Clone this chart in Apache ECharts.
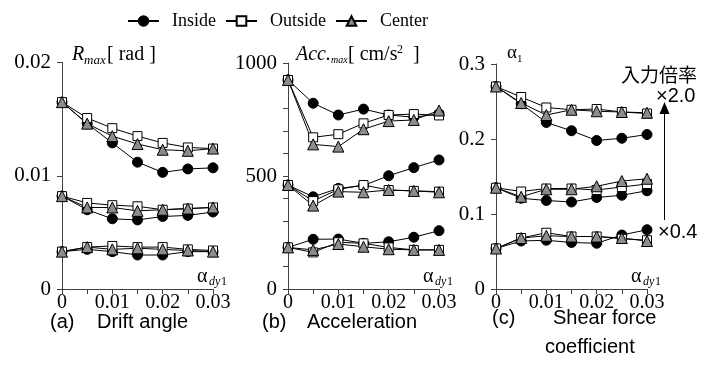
<!DOCTYPE html>
<html>
<head>
<meta charset="utf-8">
<script src="https://cdn.jsdelivr.net/npm/echarts@6/dist/echarts.min.js"></script>
<style>
  html, body { margin: 0; padding: 0; background: #fff; }
  #chart { width: 715px; height: 365px; }
</style>
</head>
<body>
<div id="chart"></div>
<script>
// x values (alpha_dy1)
const alphaDy = [0, 0.005, 0.01, 0.015, 0.02, 0.025, 0.03];
const xTickLabels = ['0', '0.01', '0.02', '0.03'];

// each list: [x2.0, x1.0, x0.4] input scale groups
const driftInside = [
  [0.0165, 0.0146, 0.0129, 0.0112, 0.0103, 0.0106, 0.0107],
  [0.0082, 0.0070, 0.0062, 0.0061, 0.0064, 0.0065, 0.0068],
  [0.0033, 0.0035, 0.0033, 0.0030, 0.0030, 0.0033, 0.0033]
];
const driftOutside = [
  [0.0165, 0.0151, 0.0142, 0.0135, 0.0129, 0.0125, 0.0124],
  [0.0082, 0.0076, 0.0074, 0.0073, 0.0070, 0.0071, 0.0072],
  [0.0033, 0.0037, 0.0038, 0.0037, 0.0037, 0.0035, 0.0034]
];
const driftCenter = [
  [0.0165, 0.0146, 0.0135, 0.0128, 0.0123, 0.0122, 0.0124],
  [0.0082, 0.0072, 0.0072, 0.0069, 0.0070, 0.0071, 0.0072],
  [0.0033, 0.0037, 0.0035, 0.0036, 0.0035, 0.0034, 0.0033]
];

const accInside = [
  [925, 822, 770, 796, 770, 760, 775],
  [460, 408, 445, 458, 501, 537, 571],
  [184, 220, 221, 202, 209, 229, 258]
];
const accOutside = [
  [925, 671, 685, 733, 770, 774, 768],
  [460, 389, 441, 460, 438, 434, 431],
  [184, 162, 207, 202, 184, 173, 173]
];
const accCenter = [
  [925, 640, 630, 707, 743, 748, 790],
  [460, 369, 431, 428, 438, 434, 428],
  [184, 173, 199, 187, 176, 173, 173]
];

const shearInside = [
  [0.270, 0.247, 0.222, 0.211, 0.198, 0.201, 0.206],
  [0.135, 0.121, 0.118, 0.116, 0.122, 0.125, 0.131],
  [0.054, 0.064, 0.065, 0.062, 0.061, 0.072, 0.079]
];
const shearOutside = [
  [0.270, 0.256, 0.242, 0.239, 0.240, 0.236, 0.234],
  [0.135, 0.130, 0.134, 0.134, 0.132, 0.136, 0.140],
  [0.054, 0.068, 0.075, 0.070, 0.070, 0.067, 0.065]
];
const shearCenter = [
  [0.270, 0.248, 0.232, 0.239, 0.237, 0.236, 0.235],
  [0.135, 0.123, 0.133, 0.133, 0.137, 0.144, 0.147],
  [0.054, 0.068, 0.071, 0.070, 0.070, 0.068, 0.064]
];

const serif = '"Liberation Serif", "DejaVu Serif", serif';
const sans = '"Liberation Sans", Arial, sans-serif';
const cjk = '"Noto Sans CJK JP", sans-serif';

// marker look per location
const markStyle = {
  Inside:  { symbol: 'circle',   symbolSize: 10, color: '#000' },
  Outside: { symbol: 'rect',     symbolSize: 9,  color: '#fff' },
  Center:  { symbol: 'triangle', symbolSize: 11, color: '#8c8c8c' }
};

const series = [];
function addGroups(name, groups, idx) {
  groups.forEach(function (ys) {
    const st = markStyle[name];
    series.push({
      name: name,
      type: 'line',
      xAxisIndex: idx,
      yAxisIndex: idx,
      data: alphaDy.map(function (x, i) { return [x, ys[i]]; }),
      symbol: st.symbol,
      symbolSize: st.symbolSize,
      showAllSymbol: true,
      lineStyle: { color: '#000', width: 1 },
      itemStyle: { color: st.color, borderColor: '#000', borderWidth: 1, opacity: 1 },
      emphasis: { disabled: true },
      animation: false
    });
  });
}
['Inside', 'Outside', 'Center'].forEach(function (n) {
  addGroups(n, { Inside: driftInside, Outside: driftOutside, Center: driftCenter }[n], 0);
  addGroups(n, { Inside: accInside, Outside: accOutside, Center: accCenter }[n], 1);
  addGroups(n, { Inside: shearInside, Outside: shearOutside, Center: shearCenter }[n], 2);
});

const axisLineStyle = { color: '#404040', width: 1 };
function xAxis(idx) {
  return {
    type: 'value', gridIndex: idx, min: 0, max: 0.03, interval: 0.005,
    axisLine: { show: true, lineStyle: axisLineStyle },
    axisTick: { show: true, length: 5, lineStyle: axisLineStyle },
    splitLine: { show: false },
    axisLabel: {
      margin: 4, color: '#000', fontFamily: serif, fontSize: 20,
      formatter: function (v) {
        const k = Math.round(v * 200);
        return k % 2 === 0 ? xTickLabels[k / 2] : '';
      }
    }
  };
}
function yAxis(idx, max, interval, labelFn) {
  return {
    type: 'value', gridIndex: idx, min: 0, max: max, interval: interval,
    axisLine: { show: true, lineStyle: axisLineStyle },
    axisTick: { show: true, length: 5, lineStyle: axisLineStyle },
    splitLine: { show: false },
    axisLabel: { margin: 11, color: '#000', fontFamily: serif, fontSize: 21, formatter: labelFn }
  };
}

const chart = echarts.init(document.getElementById('chart'), null, { renderer: 'canvas' });

function txt(x, y, text, font, extra) {
  return {
    type: 'text', silent: true,
    style: Object.assign({ x: x, y: y, text: text, font: font, fill: '#000', textVerticalAlign: 'top', verticalAlign: 'top' }, extra || {})
  };
}

const graphics = [
  // panel titles
  txt(72, 45, 'R', 'italic 20px ' + serif),
  txt(84, 54, 'max', 'italic 13px ' + serif),
  txt(107, 45, '[ rad ]', '20px ' + serif),
  txt(296, 45, 'Acc.', 'italic 20px ' + serif),
  txt(331, 55, 'max', 'italic 10px ' + serif),
  txt(348, 45, '[ cm/s', '20px ' + serif),
  txt(397, 44, '2', '12px ' + serif),
  txt(408, 45, ' ]', '20px ' + serif),
  txt(507, 44, 'α', '19px ' + serif),
  txt(517, 54, '1', '11px ' + serif),
  // x axis names
  txt(197, 267, 'α', '20px ' + serif),
  txt(209, 276, 'dy', 'italic 12px ' + serif),
  txt(221, 276, '1', '12px ' + serif),
  txt(423, 267, 'α', '20px ' + serif),
  txt(435, 276, 'dy', 'italic 12px ' + serif),
  txt(447, 276, '1', '12px ' + serif),
  txt(631, 267, 'α', '20px ' + serif),
  txt(643, 276, 'dy', 'italic 12px ' + serif),
  txt(655, 276, '1', '12px ' + serif),
  // captions
  txt(50, 312, '(a)', '20px ' + sans),
  txt(97, 312, 'Drift angle', '20px ' + sans),
  txt(262, 312, '(b)', '20px ' + sans),
  txt(307, 312, 'Acceleration', '20px ' + sans),
  txt(492, 308, '(c)', '20px ' + sans),
  txt(553, 308, 'Shear force', '20px ' + sans),
  txt(545, 337, 'coefficient', '20px ' + sans),
  // input scale annotation
  txt(621, 65, '入力倍率', '19px ' + cjk),
  txt(656, 86, '×2.0', '20px ' + sans),
  txt(658, 222, '×0.4', '20px ' + sans),
  {
    type: 'line', silent: true,
    shape: { x1: 664.5, y1: 220, x2: 664.5, y2: 112 },
    style: { stroke: '#000', lineWidth: 1 }
  },
  {
    type: 'polygon', silent: true,
    shape: { points: [[664.5, 102], [659.5, 114], [669.5, 114]] },
    style: { fill: '#000' }
  }
];

chart.setOption({
  animation: false,
  backgroundColor: '#fff',
  legend: {
    data: ['Inside', 'Outside', 'Center'],
    left: 122, top: 7,
    itemWidth: 31, itemHeight: 12, itemGap: 9,
    selectedMode: false,
    textStyle: { fontFamily: serif, fontSize: 18, color: '#000', padding: [0, 0, 0, 8] }
  },
  grid: [
    { left: 62, top: 62.5, width: 151, height: 226.5, containLabel: false, outerBoundsMode: 'none' },
    { left: 288, top: 63, width: 151, height: 226, containLabel: false, outerBoundsMode: 'none' },
    { left: 496, top: 64, width: 151, height: 225, containLabel: false, outerBoundsMode: 'none' }
  ],
  xAxis: [xAxis(0), xAxis(1), xAxis(2)],
  yAxis: [
    yAxis(0, 0.02, 0.01, function (v) { return v === 0 ? '0' : v.toFixed(2); }),
    yAxis(1, 1000, 100, function (v) { return v % 500 === 0 ? String(v) : ''; }),
    yAxis(2, 0.3, 0.1, function (v) { return v === 0 ? '0' : v.toFixed(1); })
  ],
  series: series,
  graphic: graphics
});
</script>
</body>
</html>
